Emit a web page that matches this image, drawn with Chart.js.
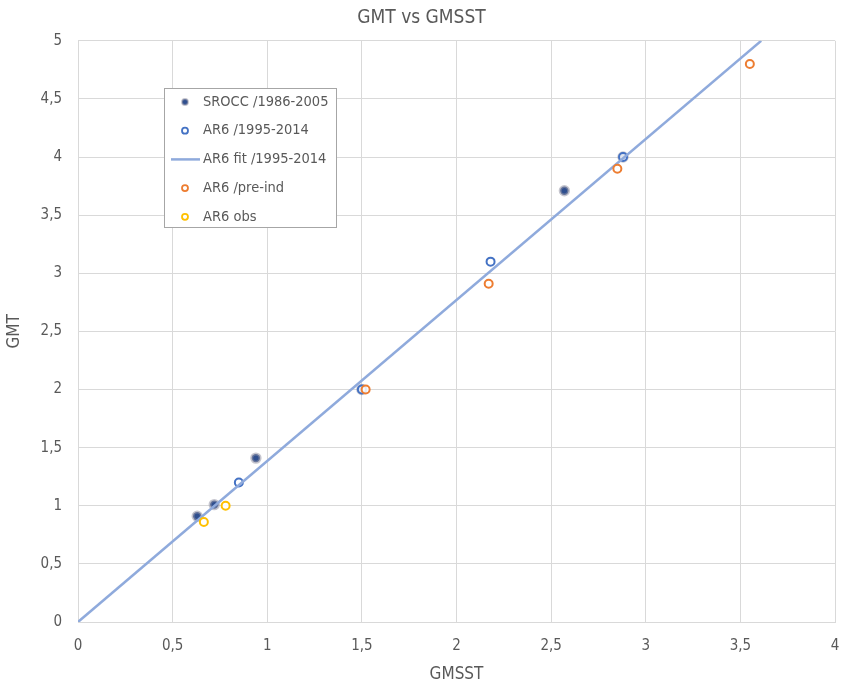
<!DOCTYPE html>
<html>
<head>
<meta charset="utf-8">
<script src="https://cdn.jsdelivr.net/npm/chart.js@4.4.1/dist/chart.umd.min.js"></script>
<style>
  html, body { margin: 0; padding: 0; background: #fff; }
  #wrap { width: 843px; height: 689px; }
</style>
</head>
<body>
<div id="wrap"><canvas id="chart" width="843" height="689"></canvas></div>
<script>
// GMT vs GMSST
const xTicks = ["0", "0,5", "1", "1,5", "2", "2,5", "3", "3,5", "4"];
const yTicks = ["0", "0,5", "1", "1,5", "2", "2,5", "3", "3,5", "4", "4,5", "5"];

const srocc = [[0.63, 0.91], [0.72, 1.01], [0.94, 1.41], [1.50, 2.00], [2.57, 3.71], [2.88, 4.00]];
const ar6 = [[0.85, 1.20], [1.50, 2.00], [2.18, 3.10], [2.88, 4.00]];
const ar6Fit = [[0, 0], [3.61, 5.0]];
const ar6Pre = [[1.52, 2.00], [2.17, 2.91], [2.85, 3.90], [3.55, 4.80]];
const ar6Obs = [[0.665, 0.86], [0.78, 1.00]];

const pts = (a) => a.map(([x, y]) => ({ x, y }));
const FONT = "'Liberation Sans Narrow', 'DejaVu Sans Condensed', 'Noto Sans', sans-serif";
const GREY = "#595959";

const datasets = [
  { label: "SROCC /1986-2005", data: pts(srocc), pointRadius: 4.2, pointBackgroundColor: "#2F4F8F",
    pointBorderColor: "rgba(150,150,165,0.55)", pointBorderWidth: 3, order: 5 },
  { label: "AR6 /1995-2014", data: pts(ar6), pointRadius: 4, pointBackgroundColor: "rgba(255,255,255,0.85)",
    pointBorderColor: "#4472C4", pointBorderWidth: 2, order: 4 },
  { label: "AR6 fit /1995-2014", data: pts(ar6Fit), showLine: true, pointRadius: 0, borderColor: "#8FAADC",
    borderWidth: 2.5, order: 3 },
  { label: "AR6 /pre-ind", data: pts(ar6Pre), pointRadius: 4, pointBackgroundColor: "rgba(255,255,255,0.85)",
    pointBorderColor: "#ED7D31", pointBorderWidth: 2, order: 2 },
  { label: "AR6 obs", data: pts(ar6Obs), pointRadius: 4, pointBackgroundColor: "rgba(255,255,255,0.85)",
    pointBorderColor: "#FFC000", pointBorderWidth: 2, order: 1 },
];

// legenda in de plotruimte, zoals in Excel
const boxLegend = {
  id: "boxLegend",
  afterDraw(chart) {
    const ctx = chart.ctx;
    const L = 164, T = 88, W = 172, H = 139;
    ctx.save();
    ctx.fillStyle = "#fff";
    ctx.fillRect(L, T, W, H);
    ctx.strokeStyle = "#A6A6A6";
    ctx.lineWidth = 1;
    ctx.strokeRect(L + 0.5, T + 0.5, W, H);
    ctx.font = "14.5px " + FONT;
    ctx.textBaseline = "middle";
    chart.data.datasets.forEach((ds, i) => {
      const y = 102 + i * 28.7;
      if (ds.showLine) {
        ctx.strokeStyle = ds.borderColor;
        ctx.lineWidth = ds.borderWidth;
        ctx.beginPath(); ctx.moveTo(171, y); ctx.lineTo(200, y); ctx.stroke();
      } else {
        ctx.beginPath();
        ctx.arc(185, y, 3, 0, Math.PI * 2);
        ctx.fillStyle = ds.pointBackgroundColor; ctx.fill();
        ctx.strokeStyle = ds.pointBorderColor; ctx.lineWidth = 1.8; ctx.stroke();
      }
      ctx.fillStyle = GREY;
      ctx.fillText(ds.label, 203, y);
    });
    ctx.restore();
  },
};

new Chart(document.getElementById("chart"), {
  type: "scatter",
  data: { datasets },
  options: {
    responsive: false,
    animation: false,
    layout: { padding: { left: 0, right: 0, top: 0, bottom: 0 } },
    plugins: {
      legend: { display: false },
      tooltip: { enabled: false },
      title: { display: true, text: "GMT vs GMSST", color: GREY, font: { family: FONT, size: 19, weight: "normal" },
        padding: { top: 7, bottom: 11 } },
    },
    scales: {
      x: {
        type: "linear", min: 0, max: 4,
        ticks: { stepSize: 0.5, color: GREY, font: { family: FONT, size: 15 }, padding: 15,
          callback: (v) => xTicks[Math.round(v * 2)] },
        grid: { color: "#D9D9D9", drawTicks: false },
        border: { color: "#D9D9D9" },
        title: { display: true, text: "GMSST", color: GREY, font: { family: FONT, size: 17 }, padding: { top: 9 } },
        afterFit: (s) => { s.height = 67; s.paddingRight = 8; s.paddingLeft = 0; },
      },
      y: {
        type: "linear", min: 0, max: 5,
        ticks: { stepSize: 0.5, color: GREY, font: { family: FONT, size: 15 }, padding: 16,
          callback: (v) => yTicks[Math.round(v * 2)] },
        grid: { color: "#D9D9D9", drawTicks: false },
        border: { color: "#D9D9D9" },
        title: { display: true, text: "GMT", color: GREY, font: { family: FONT, size: 17 }, padding: { bottom: 6 } },
        afterFit: (s) => { s.width = 78; },
      },
    },
  },
  plugins: [boxLegend],
});
</script>
</body>
</html>
